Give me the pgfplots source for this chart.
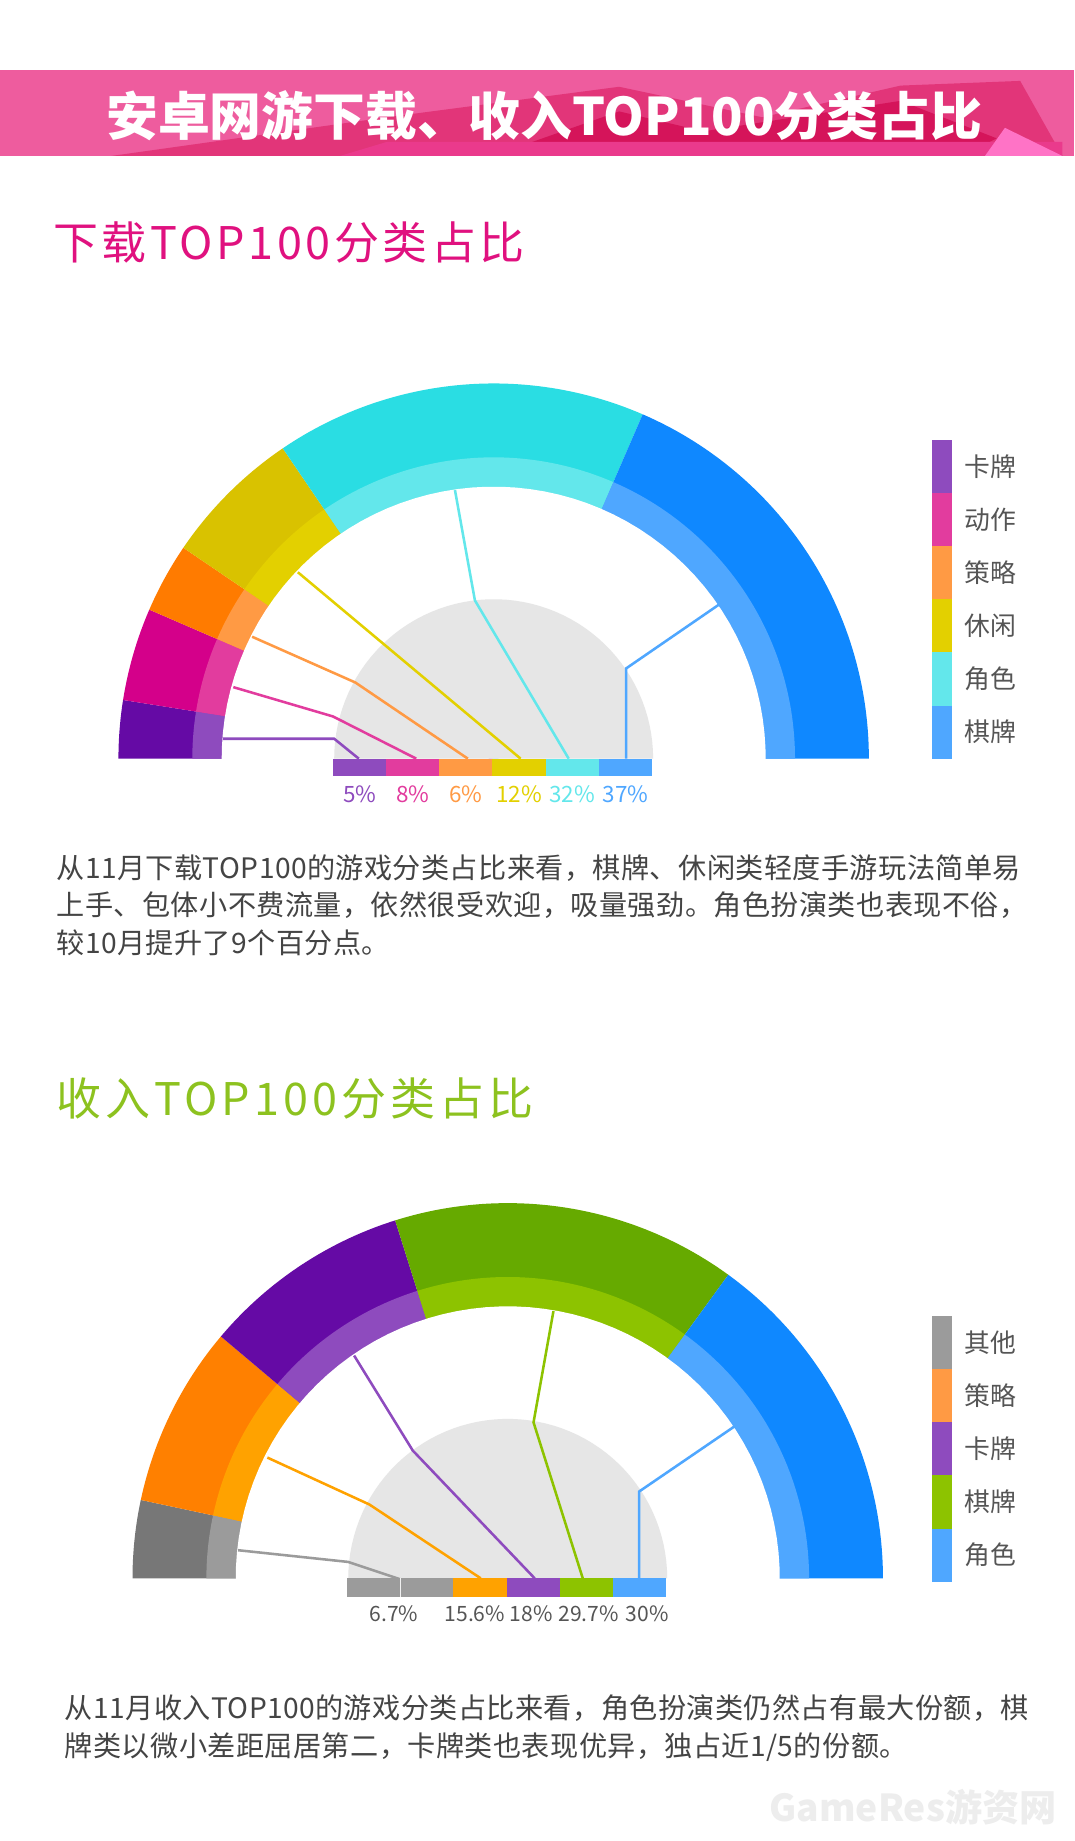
\documentclass[border=0pt]{standalone}
\usepackage{fontspec}
\setmainfont{Noto Sans CJK SC}
\usepackage{pgfplots}
\pgfplotsset{compat=1.18}

% colours
\definecolor{bnA}{HTML}{EE5C9E}
\definecolor{bnB}{HTML}{E23579}
\definecolor{bnC}{HTML}{D5145A}
\definecolor{bnD}{HTML}{EA3A8C}
\definecolor{bnE}{HTML}{FF73C6}
\definecolor{hdA}{HTML}{E0117F}
\definecolor{hdB}{HTML}{8DC21F}
\definecolor{txt}{HTML}{444444}
\definecolor{lgt}{HTML}{555555}
\definecolor{half}{HTML}{E6E6E6}
% download, dark / light
\definecolor{kaD}{HTML}{650AA5}\definecolor{kaL}{HTML}{8E4BBE}
\definecolor{dzD}{HTML}{D4008A}\definecolor{dzL}{HTML}{E23C9E}
\definecolor{clD}{HTML}{FF7B00}\definecolor{clL}{HTML}{FF9A44}
\definecolor{xxD}{HTML}{D9C200}\definecolor{xxL}{HTML}{E3D000}
\definecolor{jsD}{HTML}{2ADDE3}\definecolor{jsL}{HTML}{63E7EB}
\definecolor{qpD}{HTML}{0F88FF}\definecolor{qpL}{HTML}{4FA7FF}
% revenue
\definecolor{qtD}{HTML}{777777}\definecolor{qtL}{HTML}{9B9B9B}
\definecolor{orD}{HTML}{FF8000}\definecolor{orL}{HTML}{FFA200}
\definecolor{grD}{HTML}{66AA00}\definecolor{grL}{HTML}{8DC300}

% ring wedge: colour, cx, cy, radius, from %, to % (cumulative, 100% = half circle)
\newcommand\seg[6]{%
  \addplot[fill=#1,draw=none,domain={180-1.8*#6}:{180-1.8*#5},samples=60,variable=\t]
    ({#2+#4*cos(\t)},{#3-#4*sin(\t)}) -- (axis cs:#2,#3) -- cycle;}
\newcommand\rbox[5]{%
  \addplot[fill=#1,draw=none] coordinates {(#2,#3) (#4,#3) (#4,#5) (#2,#5)} -- cycle;}
\newcommand\lgd[2]{\node[anchor=west,inner sep=0pt,text=lgt,font=\fontsize{13.2pt}{16pt}\selectfont] at (822,#1) {#2};}
\newcommand\pct[5]{\node[inner sep=0pt,text=#3,font=\fontsize{#4}{14pt}\selectfont] at (#1,#2) {#5};}
\newcommand\ptext[3]{\node[anchor=west,inner sep=0pt,text=txt,font=\fontsize{14.4pt}{17pt}\selectfont\addfontfeature{LetterSpace=1.5}] at (#1,#2) {#3};}

\begin{document}
\begin{tikzpicture}
\begin{axis}[
    width=549.6pt, height=942pt, scale only axis, hide axis,
    xmin=0, xmax=916, ymin=0, ymax=1570, y dir=reverse, clip=false,
]
\rbox{white}{0}{0}{916}{1570}

% banner
\rbox{bnA}{0}{60}{916}{133}
\addplot[fill=bnB,draw=none] coordinates {(95,133) (330,100) (528,74) (650,100) (768,73) (870,69) (906,133)} -- cycle;
\addplot[fill=bnC,draw=none] coordinates {(420,133) (528,95) (600,112) (768,86) (850,118) (820,133)} -- cycle;
\addplot[fill=bnD,draw=none] coordinates {(290,133) (330,121) (906,121) (906,133)} -- cycle;
\addplot[fill=bnE,draw=none] coordinates {(857,109) (906,133) (840,133)} -- cycle;

% ---------- download TOP100 ----------
\seg{kaD}{421}{647}{320}{0}{5}
\seg{dzD}{421}{647}{320}{5}{13}
\seg{clD}{421}{647}{320}{13}{19}
\seg{xxD}{421}{647}{320}{19}{31}
\seg{jsD}{421}{647}{320}{31}{63}
\seg{qpD}{421}{647}{320}{63}{100}
\seg{kaL}{421}{647}{257}{0}{5}
\seg{dzL}{421}{647}{257}{5}{13}
\seg{clL}{421}{647}{257}{13}{19}
\seg{xxL}{421}{647}{257}{19}{31}
\seg{jsL}{421}{647}{257}{31}{63}
\seg{qpL}{421}{647}{257}{63}{100}
\seg{white}{421}{647}{232}{-0.4}{100.4}
\seg{half}{421}{647}{136}{0}{100}

\addplot[kaL,line width=1.3pt] coordinates {(190,630) (285,630) (306,647)};
\addplot[dzL,line width=1.3pt] coordinates {(199,586) (284,611) (355,647)};
\addplot[clL,line width=1.3pt] coordinates {(215,543) (303,582) (399,647)};
\addplot[xxL,line width=1.3pt] coordinates {(254,488) (444,647)};
\addplot[jsL,line width=1.3pt] coordinates {(388,418) (405,512) (485,647)};
\addplot[qpL,line width=1.3pt] coordinates {(614,515) (534,570) (534,647)};

\rbox{kaL}{284}{647}{329.3}{662}
\rbox{dzL}{329.3}{647}{374.7}{662}
\rbox{clL}{374.7}{647}{420}{662}
\rbox{xxL}{420}{647}{465.3}{662}
\rbox{jsL}{465.3}{647}{510.7}{662}
\rbox{qpL}{510.7}{647}{556}{662}

% legend
\rbox{kaL}{795}{375}{812}{420.3}
\rbox{dzL}{795}{420.3}{812}{465.7}
\rbox{clL}{795}{465.7}{812}{511}
\rbox{xxL}{795}{511}{812}{556.3}
\rbox{jsL}{795}{556.3}{812}{601.7}
\rbox{qpL}{795}{601.7}{812}{647}

% ---------- revenue TOP100 ----------
\seg{qtD}{433}{1346}{320}{0}{6.7}
\seg{orD}{433}{1346}{320}{6.7}{22.3}
\seg{kaD}{433}{1346}{320}{22.3}{40.3}
\seg{grD}{433}{1346}{320}{40.3}{70}
\seg{qpD}{433}{1346}{320}{70}{100}
\seg{qtL}{433}{1346}{257}{0}{6.7}
\seg{orL}{433}{1346}{257}{6.7}{22.3}
\seg{kaL}{433}{1346}{257}{22.3}{40.3}
\seg{grL}{433}{1346}{257}{40.3}{70}
\seg{qpL}{433}{1346}{257}{70}{100}
\seg{white}{433}{1346}{232}{-0.4}{100.4}
\seg{half}{433}{1346}{136}{0}{100}

\addplot[qtL,line width=1.3pt] coordinates {(203,1322) (297,1332) (342,1347)};
\addplot[orL,line width=1.3pt] coordinates {(228,1243) (315,1283) (410,1346)};
\addplot[kaL,line width=1.3pt] coordinates {(302,1156) (352,1237) (456,1346)};
\addplot[grL,line width=1.3pt] coordinates {(472,1118) (455,1213) (497,1346)};
\addplot[qpL,line width=1.3pt] coordinates {(627,1216) (545,1272) (545,1346)};

\rbox{qtL}{296}{1346}{341.3}{1362}
\rbox{qtL}{341.3}{1346}{386.7}{1362}
\addplot[white!85!qtL,line width=0.6pt] coordinates {(341.3,1346) (341.3,1362)};
\rbox{orL}{386.7}{1346}{432}{1362}
\rbox{kaL}{432}{1346}{477.3}{1362}
\rbox{grL}{477.3}{1346}{522.7}{1362}
\rbox{qpL}{522.7}{1346}{568}{1362}

\rbox{qtL}{795}{1122}{812}{1167.4}
\rbox{clL}{795}{1167.4}{812}{1212.8}
\rbox{kaL}{795}{1212.8}{812}{1258.2}
\rbox{grL}{795}{1258.2}{812}{1303.6}
\rbox{qpL}{795}{1303.6}{812}{1349}

% ---------- texts ----------
\node[text=white,font=\fontsize{26.5pt}{30pt}\selectfont\bfseries] at (464,99) {安卓网游下载、收入TOP100分类占比};

\node[anchor=west,inner sep=0pt,text=hdA,font=\fontsize{23pt}{27pt}\selectfont\addfontfeature{LetterSpace=8}] at (45,207) {下载TOP100分类占比};
\node[anchor=west,inner sep=0pt,text=hdB,font=\fontsize{23pt}{27pt}\selectfont\addfontfeature{LetterSpace=9}] at (48,937) {收入TOP100分类占比};

\lgd{397.7}{卡牌}
\lgd{443}{动作}
\lgd{488.3}{策略}
\lgd{533.7}{休闲}
\lgd{579}{角色}
\lgd{624.3}{棋牌}

\lgd{1144.7}{其他}
\lgd{1190}{策略}
\lgd{1235.5}{卡牌}
\lgd{1281}{棋牌}
\lgd{1326.3}{角色}

\pct{306.7}{677}{kaL}{11.5pt}{5\%}
\pct{352}{677}{dzL}{11.5pt}{8\%}
\pct{397.3}{677}{clL}{11.5pt}{6\%}
\pct{442.7}{677}{xxL}{11.5pt}{12\%}
\pct{488}{677}{jsL}{11.5pt}{32\%}
\pct{533.3}{677}{qpL}{11.5pt}{37\%}

\pct{336}{1376}{lgt}{10.8pt}{6.7\%}
\pct{405}{1376}{lgt}{10.8pt}{15.6\%}
\pct{453}{1376}{lgt}{10.8pt}{18\%}
\pct{502}{1376}{lgt}{10.8pt}{29.7\%}
\pct{552}{1376}{lgt}{10.8pt}{30\%}

\ptext{48}{740}{从11月下载TOP100的游戏分类占比来看，棋牌、休闲类轻度手游玩法简单易}
\ptext{48}{772}{上手、包体小不费流量，依然很受欢迎，吸量强劲。角色扮演类也表现不俗，}
\ptext{48}{804}{较10月提升了9个百分点。}

\ptext{55}{1457}{从11月收入TOP100的游戏分类占比来看，角色扮演类仍然占有最大份额，棋}
\ptext{55}{1490}{牌类以微小差距屈居第二，卡牌类也表现优异，独占近1/5的份额。}

\node[anchor=west,inner sep=0pt,text=black!7,font=\fontsize{19pt}{22pt}\selectfont\bfseries] at (656,1541) {GameRes游资网};
\end{axis}
\end{tikzpicture}
\end{document}
